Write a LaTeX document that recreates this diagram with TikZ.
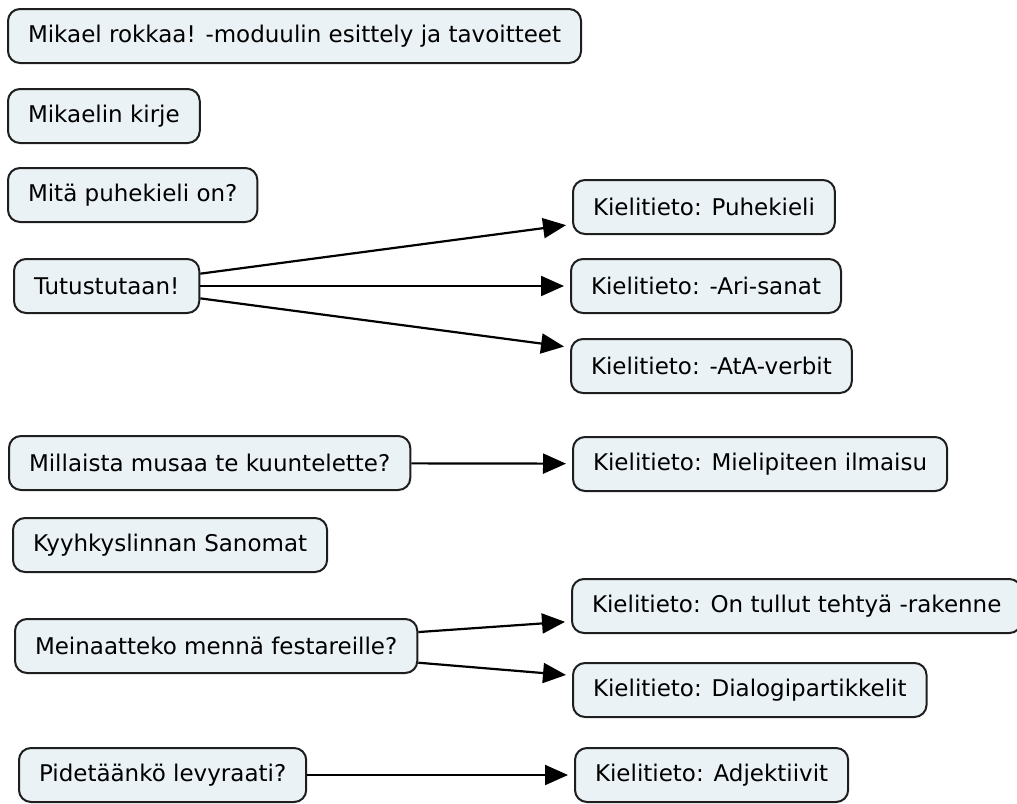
\documentclass[tikz,border=0pt]{standalone}
\usepackage{fontspec}
\setmainfont{DejaVu Sans}
\usetikzlibrary{arrows.meta}
\definecolor{boxfill}{RGB}{234,242,245}
\definecolor{boxline}{RGB}{30,30,30}
\begin{document}
\begin{tikzpicture}[x=1pt,y=-1pt,
    box/.style={draw=boxline,line width=2pt,fill=boxfill,rounded corners=12pt,anchor=west,
      minimum height=54pt,inner xsep=20pt,font=\fontsize{23}{27}\selectfont},
    link/.style={line width=2.2pt,-{Triangle[length=23pt,width=20pt]},shorten >=6pt}]
    \useasboundingbox (0,0) rectangle (1017,803);
    \node[box] (intro) at (7,36) {Mikael rokkaa! -moduulin esittely ja tavoitteet};
    \node[box] (kirje) at (7,116) {Mikaelin kirje};
    \node[box] (puhe) at (7,195) {Mitä puhekieli on?};
    \node[box] (tutu) at (13,286) {Tutustutaan!};
    \node[box] (kpuhe) at (572,207) {Kielitieto: Puhekieli};
    \node[box] (kari) at (570,286) {Kielitieto: -Ari-sanat};
    \node[box] (kata) at (570,366) {Kielitieto: -AtA-verbit};
    \node[box] (musa) at (8,463) {Millaista musaa te kuuntelette?};
    \node[box] (kmieli) at (572,464) {Kielitieto: Mielipiteen ilmaisu};
    \node[box] (sanomat) at (12,545) {Kyyhkyslinnan Sanomat};
    \node[box] (festa) at (14,646) {Meinaatteko mennä festareille?};
    \node[box] (ktullut) at (571,606) {Kielitieto: On tullut tehtyä -rakenne};
    \node[box] (kdialogi) at (572,690) {Kielitieto: Dialogipartikkelit};
    \node[box] (levy) at (18,775) {Pidetäänkö levyraati?};
    \node[box] (kadj) at (574,775) {Kielitieto: Adjektiivit};
    \draw[link] (tutu) -- (kpuhe);
    \draw[link] (tutu) -- (kari);
    \draw[link] (tutu) -- (kata);
    \draw[link] (musa) -- (kmieli);
    \draw[link] (festa) -- (ktullut);
    \draw[link] (festa) -- (kdialogi);
    \draw[link] (levy) -- (kadj);
\end{tikzpicture}
\end{document}
